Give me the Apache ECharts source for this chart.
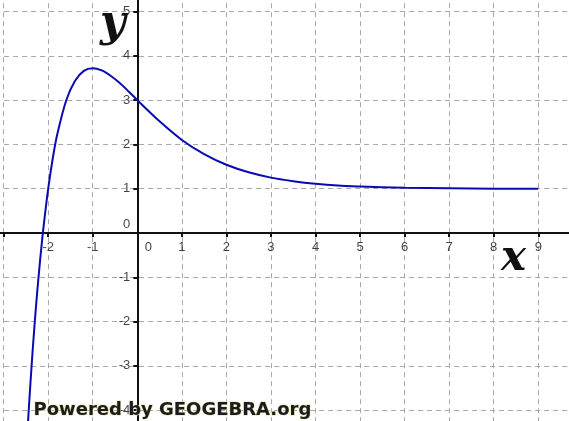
<!DOCTYPE html>
<html>
<head>
<meta charset="utf-8">
<script src="https://cdn.jsdelivr.net/npm/echarts@6/dist/echarts.min.js"></script>
<style>
  html, body { margin: 0; padding: 0; background: #fff; }
  #chart { width: 569px; height: 421px; }
</style>
</head>
<body>
<div id="chart"></div>
<script>
// values
const curveX = [-2.5, -2.45, -2.4, -2.35, -2.3, -2.25, -2.2, -2.15, -2.1, -2.0, -1.9, -1.8, -1.6, -1.4, -1.2, -1.0, -0.8, -0.6, -0.4, -0.2, 0, 0.5, 1, 1.5, 2, 2.5, 3, 3.5, 4, 4.5, 5, 6, 7, 8, 9]
const curveY = [-5.09, -4.21, -3.41, -2.67, -1.99, -1.37, -0.81, -0.29, 0.18, 1.0, 1.67, 2.21, 2.98, 3.43, 3.66, 3.72, 3.67, 3.55, 3.39, 3.2, 3.0, 2.52, 2.1, 1.78, 1.54, 1.37, 1.25, 1.17, 1.11, 1.07, 1.05, 1.02, 1.01, 1.0, 1.0]
const xTickLabels = [-2, -1, 0, 1, 2, 3, 4, 5, 6, 7, 8, 9]
const yTickLabels = [-4, -3, -2, -1, 0, 1, 2, 3, 4, 5]

const points = curveX.map((x, i) => [x, curveY[i]])

const chart = echarts.init(document.getElementById('chart'))

const gridLine = {
  show: true,
  lineStyle: { color: '#a8a8a8', type: [5, 4], width: 1 }
}
const labelFont = { color: '#111', fontSize: 13, fontFamily: 'Liberation Sans' }

// labels are drawn as scatter labels so they follow the axes through the origin
// the two zero labels sit off the tick, as in the original
const xLabelData = xTickLabels.map(v => ({
  value: [v, 0],
  label: v === 0 ? { offset: [11, 0] } : {}
}))
const yLabelData = yTickLabels.map(v => ({
  value: [0, v],
  label: v === 0 ? { offset: [0, -9] } : {}
}))

const option = {
  animation: false,
  backgroundColor: '#fff',
  grid: { left: -40.9, right: -13.8, top: -32.8, bottom: -33.5, outerBoundsMode: 'none', containLabel: false },
  xAxis: {
    type: 'value',
    min: -4,
    max: 10,
    interval: 1,
    axisLine: { onZero: true, lineStyle: { color: '#111', width: 2 } },
    axisTick: { show: true, length: 4, lineStyle: { color: '#111', width: 2 } },
    axisLabel: { show: false },
    splitLine: gridLine
  },
  yAxis: {
    type: 'value',
    min: -5,
    max: 6,
    interval: 1,
    axisLine: { onZero: true, lineStyle: { color: '#111', width: 2 } },
    axisTick: { show: true, length: 4, lineStyle: { color: '#111', width: 2 } },
    axisLabel: { show: false },
    splitLine: gridLine
  },
  graphic: [
    {
      type: 'text', left: 100, top: 3, z: 10,
      style: { text: 'y', font: 'italic bold 44px "DejaVu Serif"', fill: '#111' }
    },
    {
      type: 'text', left: 501, top: 238, z: 10,
      style: { text: 'x', font: 'italic bold 42px "DejaVu Serif"', fill: '#111' }
    },
    {
      type: 'text', left: 33, top: 401, z: 10,
      style: {
        text: 'Powered by GEOGEBRA.org',
        font: 'bold 18px "DejaVu Sans"',
        fill: '#1c1c1c',
        stroke: '#e8dca0',
        lineWidth: 1
      }
    }
  ],
  series: [
    {
      type: 'line',
      data: points,
      smooth: 0.3,
      symbol: 'none',
      clip: true,
      lineStyle: { color: '#0a0ab4', width: 2 }
    },
    {
      type: 'scatter',
      symbolSize: 0,
      silent: true,
      data: xLabelData,
      label: {
        show: true,
        position: 'bottom',
        distance: 8,
        ...labelFont,
        formatter: (p) => String(p.value[0])
      }
    },
    {
      type: 'scatter',
      symbolSize: 0,
      silent: true,
      data: yLabelData,
      label: {
        show: true,
        position: 'left',
        distance: 7,
        ...labelFont,
        formatter: (p) => String(p.value[1])
      }
    }
  ]
}

chart.setOption(option)
</script>
</body>
</html>
